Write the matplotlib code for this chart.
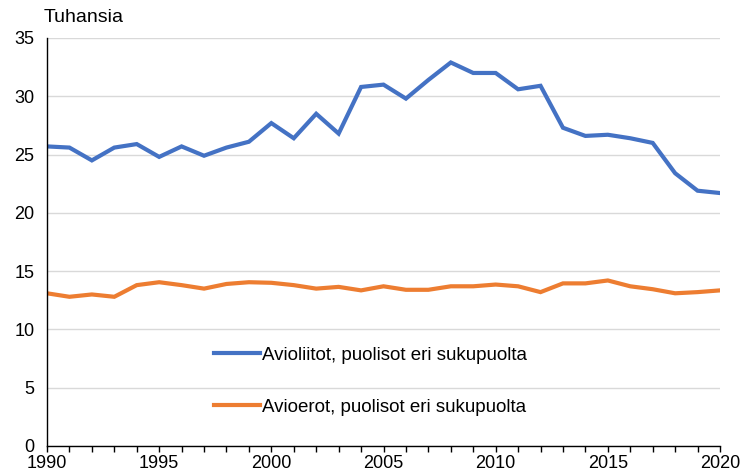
import numpy as np
import matplotlib
matplotlib.use("Agg")
import matplotlib.pyplot as plt

plt.rcParams['font.family'] = ['Liberation Sans', 'DejaVu Sans']

# #############################################################################
# Data (thousands)
years = list(range(1990, 2021))
marriages = [25.7, 25.6, 24.5, 25.6, 25.9, 24.8, 25.7, 24.9, 25.6, 26.1,
             27.7, 26.4, 28.5, 26.8, 30.8, 31.0, 29.8, 31.4, 32.9, 32.0,
             32.0, 30.6, 30.9, 27.3, 26.6, 26.7, 26.4, 26.0, 23.4, 21.9,
             21.7]
divorces = [13.1, 12.8, 13.0, 12.8, 13.8, 14.05, 13.8, 13.5, 13.9, 14.05,
            14.0, 13.8, 13.5, 13.65, 13.35, 13.7, 13.4, 13.4, 13.7, 13.7,
            13.85, 13.7, 13.2, 13.95, 13.95, 14.2, 13.7, 13.45, 13.1, 13.2,
            13.35]
labels = ["Avioliitot, puolisot eri sukupuolta",
          "Avioerot, puolisot eri sukupuolta"]
yticks = [0, 5, 10, 15, 20, 25, 30, 35]

# #############################################################################
# Plot
fig = plt.figure(figsize=(7.41, 4.72), dpi=100)
ax = fig.add_axes([47 / 741, 26 / 472, 673 / 741, 408 / 472])

ax.plot(years, marriages, color='#4472C4', lw=3, label=labels[0],
        solid_joinstyle='miter')
ax.plot(years, divorces, color='#ED7D31', lw=3, label=labels[1],
        solid_joinstyle='miter')

ax.set_xlim(1990, 2020)
ax.set_ylim(0, 35)
ax.set_yticks(yticks)
ax.yaxis.grid(True, color='#d9d9d9', lw=1)
ax.set_axisbelow(True)

ax.set_xticks(range(1990, 2021, 5))
ax.set_xticks(years, minor=True)
ax.tick_params(axis='x', which='both', direction='out', length=4,
               width=1, color='black', labelsize=13, pad=2.5)
ax.tick_params(axis='y', length=0, labelsize=13, pad=9)

for s in ['top', 'right']:
    ax.spines[s].set_visible(False)
for s in ['left', 'bottom']:
    ax.spines[s].set_color('black')
    ax.spines[s].set_linewidth(1)

fig.text(44 / 741, 1 - 18 / 472, "Tuhansia", fontsize=14, va='center',
         ha='left')

ax.legend(loc='center', bbox_to_anchor=(0.481, 0.159), frameon=False,
          fontsize=13.5, handlelength=2.45, handletextpad=0.1,
          labelspacing=1.85)

fig.savefig("out.png", dpi=100)
